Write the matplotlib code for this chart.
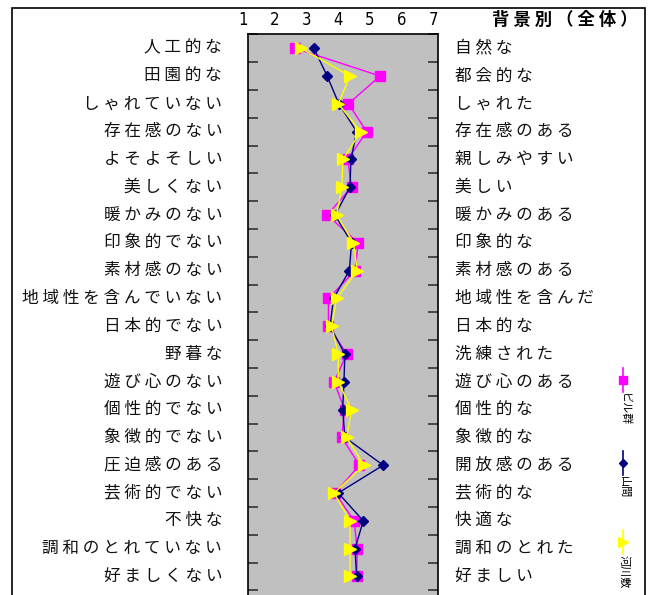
import matplotlib
matplotlib.use("Agg")
import matplotlib.pyplot as plt
from matplotlib.lines import Line2D
from matplotlib.patches import Rectangle

plt.rcParams['font.family'] = ['Noto Sans CJK JP', 'DejaVu Sans']

left_labels = ["人工的な", "田園的な", "しゃれていない", "存在感のない", "よそよそしい",
               "美しくない", "暖かみのない", "印象的でない", "素材感のない", "地域性を含んでいない",
               "日本的でない", "野暮な", "遊び心のない", "個性的でない", "象徴的でない",
               "圧迫感のある", "芸術的でない", "不快な", "調和のとれていない", "好ましくない"]
right_labels = ["自然な", "都会的な", "しゃれた", "存在感のある", "親しみやすい",
                "美しい", "暖かみのある", "印象的な", "素材感のある", "地域性を含んだ",
                "日本的な", "洗練された", "遊び心のある", "個性的な", "象徴的な",
                "開放感のある", "芸術的な", "快適な", "調和のとれた", "好ましい"]

series_names = ["ビル群", "山間", "河川敷"]
biru = [2.48, 5.17, 4.17, 4.75, 4.15, 4.27, 3.50, 4.48, 4.38, 3.54,
        3.54, 4.12, 3.72, 4.05, 3.96, 4.52, 3.75, 4.35, 4.45, 4.43]
sankan = [3.08, 3.50, 3.87, 4.43, 4.25, 4.22, 3.75, 4.27, 4.20, 3.70,
          3.59, 4.06, 4.03, 3.99, 4.06, 5.27, 3.85, 4.64, 4.38, 4.43]
kasen = [2.67, 4.22, 3.85, 4.56, 4.00, 3.96, 3.80, 4.33, 4.45, 3.80,
         3.64, 3.85, 3.85, 4.27, 4.12, 4.66, 3.72, 4.22, 4.22, 4.22]
x_ticks = [1, 2, 3, 4, 5, 6, 7]
title = "背景別（全体）"

colors = ["#FF00FF", "#000080", "#FFFF00"]
markers = ["s", "D", ">"]
msizes = [7, 5.5, 8]

W, H = 652, 595
fig = plt.figure(figsize=(W / 100, H / 100), dpi=100)

# outer frame
fig.add_artist(Rectangle((12 / W, -0.1), (645 - 12) / W, 1 - 8 / H + 0.1,
                         transform=fig.transFigure, fill=False,
                         edgecolor="black", linewidth=1.2))

ax = fig.add_axes([248 / W, 0.0, 190 / W, (H - 34.3) / H])
ax.set_facecolor("#C0C0C0")
n = len(left_labels)
ys = list(range(1, n + 1))

for vals, c, m, ms in zip([biru, sankan, kasen], colors, markers, msizes):
    ax.plot(vals, ys, color=c, marker=m, markersize=ms, linewidth=1.0,
            markeredgecolor=c, markerfacecolor=c)

ax.set_xlim(1, 7)
ax.set_ylim(0.5 + (H - 34.3) / 27.8, 0.5)
ax.xaxis.tick_top()
ax.set_xticks(x_ticks)
ax.set_xticklabels([str(v) for v in x_ticks], fontsize=12,
                   family=['Liberation Sans Narrow', 'DejaVu Sans Condensed', 'DejaVu Sans'])
ax.tick_params(axis='x', length=0, pad=4)
for lbl in ax.get_xticklabels():
    lbl.set_horizontalalignment('right')
    lbl.set_stretch('condensed')
ax.set_yticks([k + 0.5 for k in range(0, n + 1)])
ax.set_yticklabels([])
ax.tick_params(axis='y', direction='in', length=7, width=1.2, color='#333333',
               left=True, right=True)
for s in ["top", "left", "right"]:
    ax.spines[s].set_linewidth(1.2)
ax.spines["bottom"].set_visible(False)

tr = ax.get_yaxis_transform()
for y, lt, rt in zip(ys, left_labels, right_labels):
    ax.text(-26 / 190, y, " ".join(lt), transform=tr, ha="right", va="center",
            fontsize=12, color="#111111")
    ax.text(1 + 17 / 190, y, " ".join(rt), transform=tr, ha="left", va="center",
            fontsize=12, color="#111111")

fig.text(565 / W, 1 - 20 / H, " ".join(title), ha="center", va="center",
         fontsize=12.5, fontweight="bold")

# vertical legend
leg_marker_y = [380, 463, 542]
for name, c, m, ms, my in zip(series_names, colors, markers, msizes, leg_marker_y):
    fig.add_artist(Line2D([623 / W, 623 / W], [1 - (my - 12) / H, 1 - (my + 12) / H],
                          transform=fig.transFigure, color=c, linewidth=1.2))
    fig.add_artist(Line2D([623 / W], [1 - my / H], transform=fig.transFigure,
                          color=c, marker=m, markersize=ms - 1, linestyle="none"))
    fig.text(624 / W, 1 - (my + 13) / H, name, rotation=270, ha="center", va="top",
             fontsize=8)

fig.savefig("out.png", dpi=100)
